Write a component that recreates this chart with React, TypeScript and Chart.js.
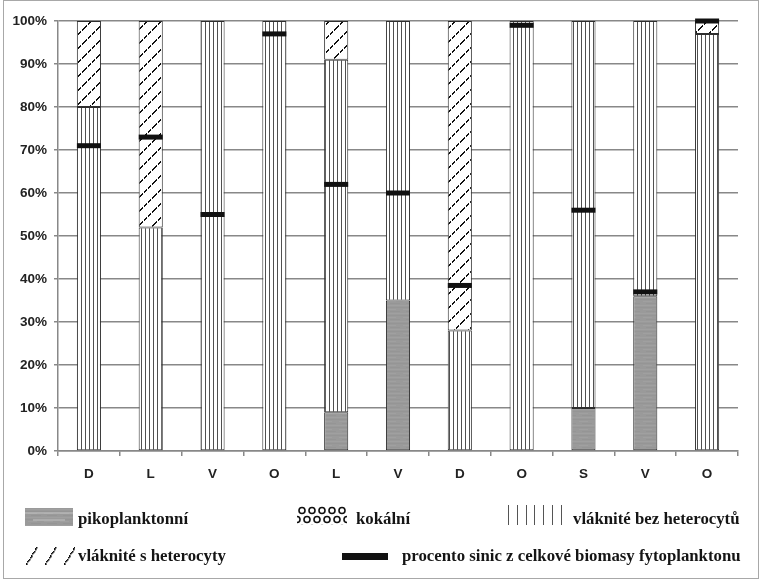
import React, { useEffect, useRef } from "react";
import { Chart, registerables } from "chart.js";

Chart.register(...registerables);

// ---- data ----
const categories = ["D", "L", "V", "O", "L", "V", "D", "O", "S", "V", "O"];
const pikoplanktonni = [0, 0, 0, 0, 9, 35, 0, 0, 10, 36, 0];
const kokalni = [0, 0, 0, 0, 0, 0, 0, 0, 0, 0, 0];
const vlakniteBez = [80, 52, 100, 100, 82, 65, 28, 100, 90, 64, 97];
const vlakniteS = [20, 48, 0, 0, 9, 0, 72, 0, 0, 0, 3];
const procentoSinic = [71, 73, 55, 97, 62, 60, 38.5, 99, 56, 37, 100];
const yTickStep = 10;
const seriesLabels = [
  "pikoplanktonní",
  "kokální",
  "vláknité bez heterocytů",
  "vláknité s heterocyty",
  "procento sinic z celkové biomasy fytoplanktonu",
];

const nz = (a: number[]) => a.map((v) => (v === 0 ? null : v));

// ---- pattern tiles ----
function tile(kind: string): HTMLCanvasElement {
  const c = document.createElement("canvas");
  const ctx = c.getContext("2d")!;
  if (kind === "gray") {
    c.width = 16;
    c.height = 8;
    ctx.fillStyle = "#9a9a9a";
    ctx.fillRect(0, 0, 16, 8);
    ctx.fillStyle = "#a0a0a0";
    ctx.fillRect(0, 1, 16, 1);
    ctx.fillRect(3, 5, 9, 1);
    ctx.fillStyle = "#959595";
    ctx.fillRect(0, 3, 16, 1);
    ctx.fillRect(6, 7, 10, 1);
  } else if (kind === "vert") {
    c.width = 4;
    c.height = 4;
    ctx.fillStyle = "#ffffff";
    ctx.fillRect(0, 0, 4, 4);
    ctx.fillStyle = "#505050";
    ctx.fillRect(1, 0, 1, 4);
  } else if (kind === "hatch") {
    const n = 14;
    c.width = n;
    c.height = n;
    ctx.fillStyle = "#ffffff";
    ctx.fillRect(0, 0, n, n);
    ctx.fillStyle = "#111111";
    for (let t = 0; t < n; t++) {
      if (t % 4 === 3) continue;
      ctx.fillRect(t, n - 1 - t, 1, 1);
      ctx.fillRect(t, (n - t) % n, 1, 1);
    }
  } else if (kind === "coc") {
    c.width = 10;
    c.height = 18;
    ctx.fillStyle = "#ffffff";
    ctx.fillRect(0, 0, 10, 18);
    ctx.strokeStyle = "#111";
    ctx.lineWidth = 1.6;
    const ring = (x: number, y: number) => {
      ctx.beginPath();
      ctx.arc(x, y, 3, 0, Math.PI * 2);
      ctx.stroke();
    };
    ring(5, 4.5);
    ring(0, 13.5);
    ring(10, 13.5);
    ring(5, 22.5);
    ring(0, -4.5);
    ring(10, -4.5);
  }
  return c;
}

function drawSwatch(canvas: HTMLCanvasElement, kind: string) {
  const ctx = canvas.getContext("2d")!;
  const w = canvas.width;
  const h = canvas.height;
  ctx.clearRect(0, 0, w, h);
  if (kind === "gray") {
    ctx.fillStyle = ctx.createPattern(tile("gray"), "repeat")!;
    ctx.fillRect(0, 0, w, h);
    ctx.fillStyle = "rgba(200,200,200,0.45)";
    ctx.fillRect(0, 4, w, 2);
    ctx.fillRect(8, 11, w - 16, 2);
  } else if (kind === "coc") {
    ctx.fillStyle = ctx.createPattern(tile("coc"), "repeat")!;
    ctx.fillRect(0, 0, w, h);
  } else if (kind === "vert") {
    ctx.fillStyle = "#fff";
    ctx.fillRect(0, 0, w, h);
    ctx.fillStyle = "#555";
    for (let x = 0; x < w; x += 8.8) ctx.fillRect(Math.round(x), 0, 1, h);
  } else if (kind === "hatch") {
    ctx.fillStyle = "#fff";
    ctx.fillRect(0, 0, w, h);
    ctx.fillStyle = "#111";
    [0, 19, 38].forEach((x0) => {
      for (let t = 0; t <= h; t++) {
        if (t % 4 === 3) continue;
        ctx.fillRect(Math.round(x0 + (t * 11) / h), h - t, 1.5, 1.5);
      }
    });
  } else if (kind === "black") {
    ctx.fillStyle = "#111";
    ctx.fillRect(0, 0, w, h);
  }
}

function Swatch(props: { kind: string; left: number; top: number; w: number; h: number }) {
  const ref = useRef<HTMLCanvasElement | null>(null);
  useEffect(() => {
    if (ref.current) drawSwatch(ref.current, props.kind);
  }, [props.kind]);
  return (
    <canvas
      ref={ref}
      width={props.w}
      height={props.h}
      style={{ position: "absolute", left: props.left, top: props.top, width: props.w, height: props.h }}
    />
  );
}

function LegendText(props: { left: number; cy: number; text: string }) {
  return (
    <div
      style={{
        position: "absolute",
        left: props.left,
        top: props.cy - 11,
        height: 22,
        lineHeight: "22px",
        fontFamily: '"Liberation Serif", "Times New Roman", serif',
        fontWeight: "bold",
        fontSize: 16.8,
        color: "#151515",
        whiteSpace: "nowrap",
      }}
    >
      {props.text}
    </div>
  );
}

export default function App() {
  const canvasRef = useRef<HTMLCanvasElement | null>(null);

  useEffect(() => {
    document.body.style.margin = "0";
    const canvas = canvasRef.current!;
    const ctx = canvas.getContext("2d")!;
    const grayPat = ctx.createPattern(tile("gray"), "repeat")!;
    const cocPat = ctx.createPattern(tile("coc"), "repeat")!;
    const vertPat = ctx.createPattern(tile("vert"), "repeat")!;
    const hatchPat = ctx.createPattern(tile("hatch"), "repeat")!;

    const barCommon = {
      borderColor: "#2e2e2e",
      borderWidth: 1,
      borderSkipped: false as const,
      stack: "s",
    };
    const tickFont = { family: '"Liberation Sans", Arial, sans-serif', size: 13.5, weight: "bold" as const };

    const chart = new Chart(canvas, {
      type: "bar",
      data: {
        labels: categories,
        datasets: [
          { ...barCommon, label: seriesLabels[0], data: nz(pikoplanktonni), backgroundColor: grayPat },
          { ...barCommon, label: seriesLabels[1], data: nz(kokalni), backgroundColor: cocPat },
          { ...barCommon, label: seriesLabels[2], data: nz(vlakniteBez), backgroundColor: vertPat },
          { ...barCommon, label: seriesLabels[3], data: nz(vlakniteS), backgroundColor: hatchPat },
          {
            type: "line",
            label: seriesLabels[4],
            data: procentoSinic,
            yAxisID: "y2",
            showLine: false,
            pointStyle: "line",
            pointRadius: 12,
            pointHoverRadius: 12,
            pointBorderWidth: 5,
            pointHoverBorderWidth: 5,
            pointBorderColor: "#111",
            pointBackgroundColor: "#111",
            borderColor: "#111",
            backgroundColor: "#111",
            clip: false,
            order: -1,
          } as any,
        ],
      },
      options: {
        animation: false,
        responsive: false,
        maintainAspectRatio: false,
        events: [],
        layout: { padding: { top: 21, right: 23, left: 0, bottom: 0 } },
        plugins: { legend: { display: false }, tooltip: { enabled: false } },
        datasets: { bar: { categoryPercentage: 1, barPercentage: 0.39 } },
        scales: {
          x: {
            stacked: true,
            grid: {
              display: true,
              drawOnChartArea: false,
              drawTicks: true,
              tickLength: 5,
              offset: true,
              color: "#888",
              lineWidth: 1.5,
            },
            border: { display: true, color: "#888", width: 1.5 },
            ticks: { font: tickFont, color: "#222", padding: 10 },
            afterFit: (s: any) => {
              s.height = 49;
            },
          },
          y: {
            stacked: true,
            min: 0,
            max: 100,
            ticks: {
              stepSize: yTickStep,
              callback: (v: any) => v + "%",
              font: tickFont,
              color: "#222",
              padding: 7,
            },
            grid: { color: "#888", lineWidth: 1.5, tickLength: 4, drawTicks: true },
            border: { display: true, color: "#888", width: 1.5 },
            afterFit: (s: any) => {
              s.width = 58;
            },
          },
          y2: { display: false, min: 0, max: 100 },
        },
      },
    });
    return () => chart.destroy();
  }, []);

  return (
    <div style={{ position: "relative", width: 761, height: 580, background: "#fff", overflow: "hidden" }}>
      <canvas
        ref={canvasRef}
        width={761}
        height={500}
        style={{ position: "absolute", left: 0, top: 0, width: 761, height: 500 }}
      />
      <div
        style={{
          position: "absolute",
          left: 3,
          top: 0,
          width: 756,
          height: 579,
          border: "1px solid #a8a8a8",
          boxSizing: "border-box",
          pointerEvents: "none",
        }}
      />
      <Swatch kind="gray" left={25} top={508} w={48} h={18} />
      <LegendText left={78} cy={519} text={seriesLabels[0]} />
      <Swatch kind="coc" left={297} top={506} w={50} h={19} />
      <LegendText left={356} cy={519} text={seriesLabels[1]} />
      <Swatch kind="vert" left={508} top={505} w={54} h={20} />
      <LegendText left={573} cy={519} text={seriesLabels[2]} />
      <Swatch kind="hatch" left={25} top={547} w={50} h={18} />
      <LegendText left={78} cy={556} text={seriesLabels[3]} />
      <Swatch kind="black" left={342} top={553} w={46} h={7} />
      <LegendText left={402} cy={556} text={seriesLabels[4]} />
    </div>
  );
}
